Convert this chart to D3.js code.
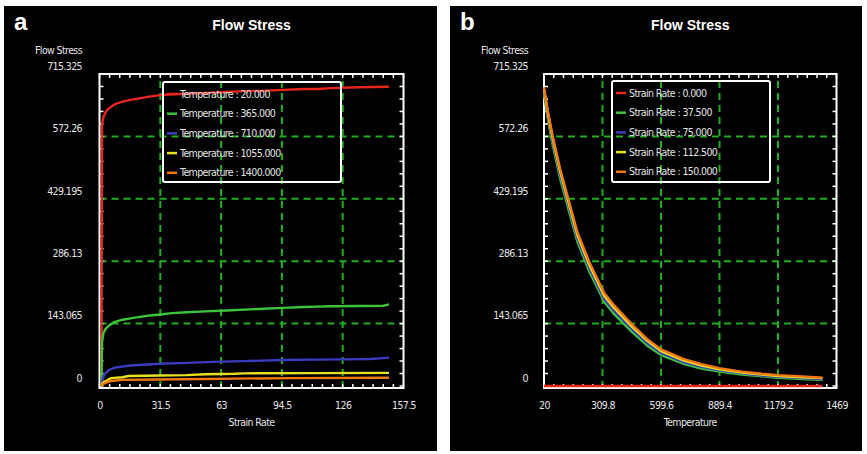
<!DOCTYPE html>
<html>
<head>
<meta charset="utf-8">
<script src="https://cdn.jsdelivr.net/npm/d3@7"></script>
<style>
  body { margin: 0; background: #ffffff; }
  svg { display: block; }
  text { fill: #e4e4e4; }
</style>
</head>
<body>
<svg id="chart" width="867" height="454"></svg>
<script>
// ---- axis ticks ----
const stressTicks = [0, 143.065, 286.13, 429.195, 572.26, 715.325];
const stressTickLabels = ["0", "143.065", "286.13", "429.195", "572.26", "715.325"];
const strainTicks = [0, 31.5, 63, 94.5, 126, 157.5];
const strainTickLabels = ["0", "31.5", "63", "94.5", "126", "157.5"];
const tempTicks = [20, 309.8, 599.6, 889.4, 1179.2, 1469];
const tempTickLabels = ["20", "309.8", "599.6", "889.4", "1179.2", "1469"];

// ---- panel a: flow stress against strain rate, one curve per temperature ----
const temperatureLabels = ["Temperature : 20.000", "Temperature : 365.000", "Temperature : 710.000",
                           "Temperature : 1055.000", "Temperature : 1400.000"];
const strainT20 = [[1,0],[1.3,600],[2,616],[3,626],[4,633],[6,640],[8,646],[12,652],[16,656],[20,659],
                   [25,663],[31.5,667],[37.5,669],[45,670],[55,672],[66,674],[75,676],[85,677],[95,679],
                   [106,681],[112.5,681],[120,683],[134,685],[150,686]];
const strainT365 = [[1,0],[1.3,100],[2,121],[3,130],[4,135],[6,142],[8,147],[12,152],[16,155],[20,158],
                    [25,161],[31.5,164],[37.5,167],[45,169],[55,171],[66,173],[75,175],[85,177],[95,179],
                    [106,181],[112.5,182],[120,183],[134,183.5],[147,184],[150,187]];
const strainT710 = [[1,5],[2,21],[3,29],[5,37],[8,42],[15,46.5],[20,48],[31.5,51],[45,53],[63,56],
                    [75,57],[94.5,59.6],[110,60.5],[126,61],[140,62],[147,64],[150,65]];
const strainT1055 = [[1,2],[2,8.5],[4,13],[6,18],[12,20],[15,23],[31.5,24],[45,25],[55,27],[70,28],
                     [75,29],[110,29.5],[150,30]];
const strainT1400 = [[1,0],[2,5],[4,9],[6,11.5],[12,14],[30,15],[55,16],[70,17],[100,18],[150,19]];
const strainSeries = [strainT20, strainT365, strainT710, strainT1055, strainT1400];

// ---- panel b: flow stress against temperature, one curve per strain rate ----
const strainRateLabels = ["Strain Rate : 0.000", "Strain Rate : 37.500", "Strain Rate : 75.000",
                          "Strain Rate : 112.500", "Strain Rate : 150.000"];
const temps = [20, 40, 63, 100, 140, 186, 244, 318, 365, 458, 530, 600, 710, 800, 889, 1000, 1100, 1179, 1300, 1400];
const stressRate0 = [0, 0, 0, 0, 0, 0, 0, 0, 0, 0, 0, 0, 0, 0, 0, 0, 0, 0, 0, 0];
const stressRate37 = [670, 610, 553, 476, 407, 330, 263, 193, 166, 123, 93, 71, 51, 40, 33, 26, 22, 19, 16, 14];
const stressRate75 = [676, 617, 561, 485, 416, 338, 271, 200, 174, 130, 99, 76, 55, 44, 36, 29, 24, 21, 18, 16];
const stressRate112 = [681, 623, 567, 492, 423, 345, 278, 207, 180, 135, 104, 80, 59, 47, 38, 31, 26, 23, 20, 18];
const stressRate150 = [685, 628, 573, 498, 430, 352, 285, 213, 186, 140, 108, 84, 62, 50, 41, 33, 28, 25, 22, 19];
const tempSeries = [stressRate0, stressRate37, stressRate75, stressRate112, stressRate150];

const seriesColors = ["#e8261e", "#3cc43c", "#3b3bc0", "#e6e020", "#f0780f"];
const gridColor = "#1fae1f";
const labelFont = "'Liberation Sans Narrow', 'DejaVu Sans Condensed', 'Liberation Sans', sans-serif";

const svg = d3.select("#chart");

function styleLabel(sel) {
  return sel.attr("font-family", labelFont).attr("font-size", 10.5)
    .attr("letter-spacing", "-0.6px").style("fill", "#e4e4e4");
}

function drawPanel(cfg) {
  const g = svg.append("g");
  // black panel background
  g.append("rect").attr("x", cfg.box[0]).attr("y", cfg.box[1])
    .attr("width", cfg.box[2]).attr("height", cfg.box[3]).attr("fill", "#000");

  const x = d3.scaleLinear().domain(cfg.xDomain).range(cfg.xRange);
  const y = d3.scaleLinear().domain([0, 715.325]).range([386, 74]);
  const [x0, x1] = cfg.xRange;
  const [y0, y1] = y.range();
  const frameBottom = y0 + 2;

  // panel letter and title
  g.append("text").attr("x", cfg.box[0] + 10).attr("y", 30)
    .attr("font-family", "'Liberation Sans', Arial, sans-serif").attr("font-weight", "bold")
    .attr("font-size", 24).style("fill", "#fff").text(cfg.letter);
  g.append("text").attr("x", (x0 + x1) / 2).attr("y", 30).attr("text-anchor", "middle")
    .attr("font-family", "'Liberation Sans', Arial, sans-serif").attr("font-weight", "bold")
    .attr("font-size", 14).style("fill", "#fff").text("Flow Stress");

  // dashed grid at the inner ticks
  const grid = g.append("g").attr("stroke", gridColor).attr("stroke-width", 2)
    .attr("stroke-dasharray", "7,5");
  cfg.xTicks.slice(1, -1).forEach(v => {
    grid.append("line").attr("x1", x(v)).attr("x2", x(v)).attr("y1", frameBottom).attr("y2", y1);
  });
  stressTicks.slice(1, -1).forEach(v => {
    grid.append("line").attr("x1", x0).attr("x2", x1).attr("y1", y(v)).attr("y2", y(v));
  });

  // minor ticks pointing inwards on all four sides
  const ticks = g.append("g").attr("stroke", "#fff").attr("stroke-width", 1.5);
  const xStep = (cfg.xTicks[1] - cfg.xTicks[0]) / 6;
  d3.range(0, 37).map(k => cfg.xDomain[0] + k * xStep).filter(v => v <= cfg.xDomain[1] + 1e-9).forEach(v => {
    ticks.append("line").attr("x1", x(v)).attr("x2", x(v)).attr("y1", frameBottom).attr("y2", frameBottom - 4);
    ticks.append("line").attr("x1", x(v)).attr("x2", x(v)).attr("y1", y1).attr("y2", y1 + 4);
  });
  const yStep = stressTicks[1] / 5;
  d3.range(0, 26).map(k => k * yStep).forEach(v => {
    ticks.append("line").attr("x1", x0).attr("x2", x0 + 4).attr("y1", y(v)).attr("y2", y(v));
    ticks.append("line").attr("x1", x1).attr("x2", x1 - 4).attr("y1", y(v)).attr("y2", y(v));
  });

  // frame
  g.append("rect").attr("x", x0).attr("y", y1).attr("width", x1 - x0).attr("height", frameBottom - y1)
    .attr("fill", "none").attr("stroke", "#fff").attr("stroke-width", 2);

  // curves
  const line = d3.line().x(d => x(d[0])).y(d => y(d[1]));
  cfg.series.forEach((pts, i) => {
    g.append("path").datum(pts).attr("d", line).attr("fill", "none")
      .attr("stroke", seriesColors[i]).attr("stroke-width", 2.4)
      .attr("stroke-linejoin", "round");
  });

  // y axis labels (sit a little above their values)
  const yAxis = d3.axisLeft(y).tickValues(stressTicks)
    .tickFormat((d, i) => stressTickLabels[i]).tickSize(0).tickPadding(x0 - cfg.yLabelRight);
  const ya = g.append("g").attr("transform", `translate(${x0},0)`).call(yAxis);
  ya.select(".domain").remove();
  styleLabel(ya.selectAll("text").attr("dy", "-0.45em"));
  styleLabel(g.append("text").attr("x", cfg.yLabelRight).attr("y", 54).attr("text-anchor", "end")
    .text("Flow Stress"));

  // x axis labels
  const xAxis = d3.axisBottom(x).tickValues(cfg.xTicks)
    .tickFormat((d, i) => cfg.xTickLabels[i]).tickSize(0).tickPadding(16);
  const xa = g.append("g").attr("transform", `translate(0,${y0})`).call(xAxis);
  xa.select(".domain").remove();
  styleLabel(xa.selectAll("text"));
  styleLabel(g.append("text").attr("x", (x0 + x1) / 2).attr("y", 426).attr("text-anchor", "middle")
    .text(cfg.xTitle));

  // legend
  const lg = g.append("g");
  lg.append("rect").attr("x", cfg.legend[0]).attr("y", cfg.legend[1])
    .attr("width", cfg.legend[2]).attr("height", cfg.legend[3])
    .attr("fill", "none").attr("stroke", "#fff").attr("stroke-width", 2).attr("rx", 2);
  cfg.labels.forEach((lab, i) => {
    const cy = cfg.legend[1] + 12 + i * 19.7;
    lg.append("line").attr("x1", cfg.legend[0] + 4).attr("x2", cfg.legend[0] + 14)
      .attr("y1", cy).attr("y2", cy).attr("stroke", seriesColors[i]).attr("stroke-width", 2.5);
    styleLabel(lg.append("text").attr("x", cfg.legend[0] + 17).attr("y", cy).attr("dy", "0.35em")
      .text(lab));
  });
}

drawPanel({
  letter: "a",
  box: [4, 6, 433, 445],
  xDomain: [0, 157.5], xRange: [99.5, 403.5],
  xTicks: strainTicks, xTickLabels: strainTickLabels, xTitle: "Strain Rate",
  yLabelRight: 82,
  series: strainSeries,
  labels: temperatureLabels,
  legend: [163, 82, 178, 100]
});

drawPanel({
  letter: "b",
  box: [450, 6, 412, 445],
  xDomain: [20, 1469], xRange: [544, 836.5],
  xTicks: tempTicks, xTickLabels: tempTickLabels, xTitle: "Temperature",
  yLabelRight: 528,
  series: tempSeries.map(vals => temps.map((t, i) => [t, vals[i]])),
  labels: strainRateLabels,
  legend: [612, 81, 158, 101]
});
</script>
</body>
</html>
